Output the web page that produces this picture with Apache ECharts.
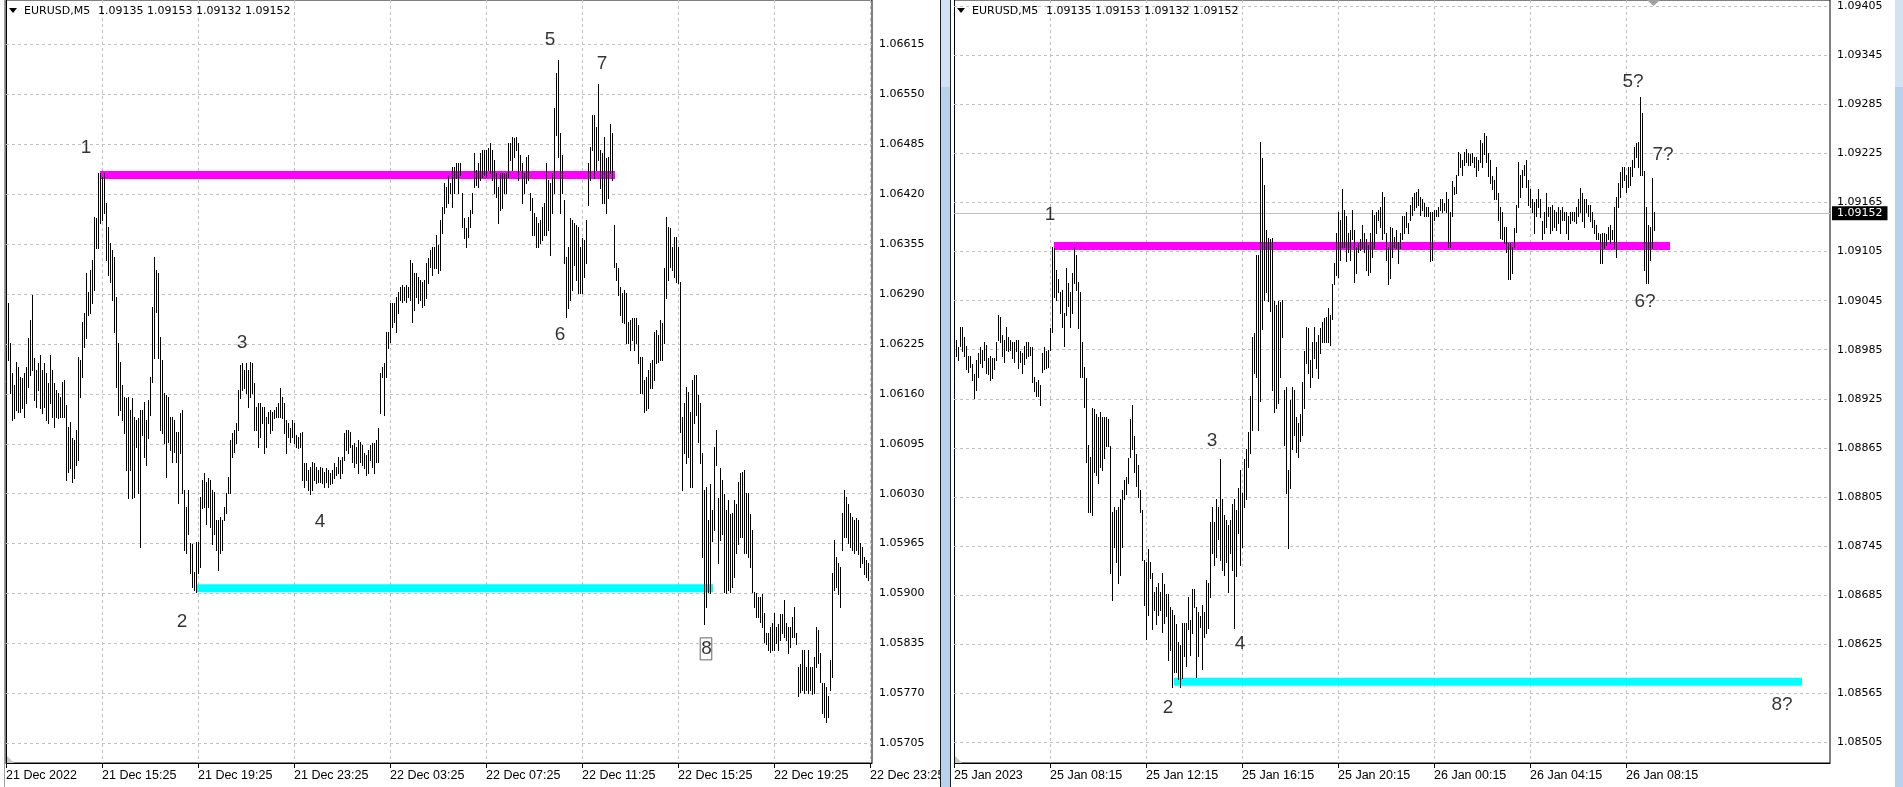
<!DOCTYPE html>
<html><head><meta charset="utf-8">
<script src="https://cdn.jsdelivr.net/npm/echarts@6/dist/echarts.min.js"></script>
<style>html,body{margin:0;padding:0;background:#fff;overflow:hidden}#c{width:1903px;height:787px}</style>
</head><body><div id="c"></div>
<script>
// ---------- DATA ----------
const symbolName = 'EURUSD,M5';
const headerOHLC = ['1.09135', '1.09153', '1.09132', '1.09152'];

const leftTimeLabels = ['21 Dec 2022','21 Dec 15:25','21 Dec 19:25','21 Dec 23:25','22 Dec 03:25','22 Dec 07:25','22 Dec 11:25','22 Dec 15:25','22 Dec 19:25','22 Dec 23:25'];
const rightTimeLabels = ['25 Jan 2023','25 Jan 08:15','25 Jan 12:15','25 Jan 16:15','25 Jan 20:15','26 Jan 00:15','26 Jan 04:15','26 Jan 08:15'];

const leftPriceTicks = [1.05705,1.05770,1.05835,1.05900,1.05965,1.06030,1.06095,1.06160,1.06225,1.06290,1.06355,1.06420,1.06485,1.06550,1.06615];
const rightPriceTicks = [1.08505,1.08565,1.08625,1.08685,1.08745,1.08805,1.08865,1.08925,1.08985,1.09045,1.09105,1.09165,1.09225,1.09285,1.09345,1.09405];

const leftHigh = [
1.06299,1.06278,1.06226,1.06187,1.06172,1.06201,1.06195,1.06182,1.06181,1.06187,
1.06195,1.06233,1.06256,1.06289,1.06207,1.06191,1.06200,1.06211,1.06191,1.06200,
1.06187,1.06174,1.06211,1.06191,1.06174,1.06165,1.06161,1.06156,1.06175,1.06178,
1.06146,1.06117,1.06123,1.06103,1.06100,1.06113,1.06208,1.06204,1.06253,1.06265,
1.06317,1.06292,1.06321,1.06334,1.06390,1.06389,1.06447,1.06448,1.06442,1.06447,
1.06409,1.06377,1.06356,1.06347,1.06338,1.06286,1.06226,1.06201,1.06172,1.06156,
1.06155,1.06156,1.06139,1.06155,1.06130,1.06126,1.06129,1.06139,1.06139,1.06149,
1.06126,1.06152,1.06182,1.06273,1.06338,1.06321,1.06318,1.06234,1.06204,1.06161,
1.06159,1.06156,1.06130,1.06130,1.06126,1.06110,1.06110,1.06135,1.06139,1.06035,
1.06013,1.06035,1.05966,1.05964,1.05928,1.05967,1.05967,1.06026,1.06048,1.06057,
1.06045,1.06051,1.06048,1.06035,1.06032,1.05996,1.05996,1.06000,1.05996,1.06013,
1.06031,1.06052,1.06100,1.06109,1.06113,1.06122,1.06165,1.06198,1.06200,1.06191,
1.06200,1.06191,1.06201,1.06200,1.06174,1.06143,1.06148,1.06148,1.06143,1.06143,
1.06130,1.06136,1.06139,1.06136,1.06139,1.06143,1.06148,1.06168,1.06156,1.06148,
1.06126,1.06122,1.06116,1.06126,1.06122,1.06107,1.06104,1.06109,1.06110,1.06070,
1.06070,1.06061,1.06065,1.06071,1.06070,1.06065,1.06061,1.06065,1.06064,1.06058,
1.06064,1.06061,1.06057,1.06061,1.06070,1.06065,1.06078,1.06074,1.06078,1.06109,
1.06113,1.06113,1.06110,1.06094,1.06096,1.06091,1.06100,1.06097,1.06094,1.06083,
1.06081,1.06087,1.06094,1.06096,1.06096,1.06100,1.06116,1.06187,1.06195,1.06200,
1.06240,1.06240,1.06278,1.06278,1.06278,1.06286,1.06292,1.06299,1.06302,1.06299,
1.06302,1.06299,1.06334,1.06331,1.06317,1.06317,1.06312,1.06308,1.06305,1.06308,
1.06331,1.06337,1.06347,1.06351,1.06351,1.06367,1.06354,1.06386,1.06403,1.06434,
1.06429,1.06445,1.06434,1.06455,1.06455,1.06460,1.06460,1.06460,1.06422,1.06389,
1.06376,1.06390,1.06399,1.06421,1.06474,1.06451,1.06461,1.06474,1.06477,1.06477,
1.06477,1.06480,1.06486,1.06477,1.06464,1.06448,1.06429,1.06448,1.06447,1.06448,
1.06447,1.06487,1.06486,1.06494,1.06493,1.06494,1.06486,1.06471,1.06460,1.06448,
1.06468,1.06471,1.06421,1.06415,1.06395,1.06390,1.06383,1.06386,1.06403,1.06408,
1.06460,1.06438,1.06435,1.06447,1.06532,1.06578,1.06595,1.06499,1.06471,1.06412,
1.06338,1.06351,1.06389,1.06386,1.06382,1.06380,1.06377,1.06351,1.06363,1.06360,
1.06386,1.06460,1.06481,1.06523,1.06523,1.06507,1.06564,1.06477,1.06474,1.06494,
1.06467,1.06468,1.06512,1.06500,1.06380,1.06331,1.06324,1.06299,1.06291,1.06295,
1.06291,1.06253,1.06256,1.06259,1.06259,1.06259,1.06250,1.06208,1.06208,1.06178,
1.06182,1.06191,1.06200,1.06204,1.06240,1.06243,1.06237,1.06256,1.06252,1.06324,
1.06390,1.06377,1.06376,1.06351,1.06364,1.06364,1.06351,1.06305,1.06130,1.06148,
1.06169,1.06162,1.06136,1.06178,1.06185,1.06185,1.06159,1.06148,1.06083,1.06035,
1.06039,1.05996,1.06042,1.06009,1.06091,1.06113,1.06025,1.06064,1.06048,1.06029,
1.06009,1.06022,1.06003,1.06005,1.06022,1.06016,1.06045,1.06057,1.06058,1.06061,
1.06031,1.06031,1.06003,1.05983,1.05902,1.05901,1.05895,1.05896,1.05899,1.05875,
1.05849,1.05849,1.05857,1.05862,1.05875,1.05856,1.05860,1.05873,1.05873,1.05892,
1.05862,1.05857,1.05857,1.05869,1.05883,1.05849,1.05805,1.05808,1.05827,1.05827,
1.05805,1.05827,1.05805,1.05805,1.05818,1.05857,1.05853,1.05823,1.05784,1.05784,
1.05779,1.05766,1.05814,1.05927,1.05970,1.05948,1.05940,1.05935,1.06005,1.06035,
1.06026,1.06016,1.06005,1.06000,1.05996,1.05999,1.05996,1.05966,1.05961,1.05948,
1.05944,1.05940];
const leftLow = [
1.06234,1.06204,1.06161,1.06126,1.06129,1.06139,1.06136,1.06136,1.06142,1.06130,
1.06148,1.06169,1.06185,1.06191,1.06152,1.06143,1.06165,1.06142,1.06135,1.06143,
1.06126,1.06122,1.06148,1.06130,1.06117,1.06130,1.06129,1.06130,1.06130,1.06130,
1.06048,1.06058,1.06064,1.06045,1.06051,1.06068,1.06074,1.06156,1.06182,1.06221,
1.06233,1.06263,1.06265,1.06278,1.06295,1.06350,1.06350,1.06383,1.06386,1.06395,
1.06334,1.06315,1.06305,1.06282,1.06240,1.06169,1.06133,1.06139,1.06126,1.06109,
1.06061,1.06025,1.06061,1.06025,1.06026,1.06091,1.06031,1.05960,1.06107,1.06078,
1.06068,1.06103,1.06133,1.06175,1.06207,1.06266,1.06207,1.06113,1.06109,1.06096,
1.06052,1.06097,1.06087,1.06071,1.06084,1.06071,1.06018,1.06083,1.06031,1.05957,
1.05953,1.05977,1.05927,1.05908,1.05905,1.05902,1.05927,1.05934,1.06012,1.06013,
1.05990,1.06013,1.05987,1.05964,1.05977,1.05957,1.05931,1.05953,1.05957,1.05996,
1.06005,1.06031,1.06031,1.06078,1.06084,1.06096,1.06113,1.06155,1.06165,1.06168,
1.06161,1.06143,1.06156,1.06161,1.06113,1.06113,1.06091,1.06104,1.06122,1.06083,
1.06091,1.06122,1.06109,1.06113,1.06129,1.06130,1.06130,1.06130,1.06129,1.06109,
1.06083,1.06104,1.06097,1.06104,1.06096,1.06091,1.06090,1.06091,1.06048,1.06039,
1.06048,1.06035,1.06029,1.06035,1.06048,1.06044,1.06045,1.06045,1.06044,1.06039,
1.06045,1.06039,1.06042,1.06044,1.06051,1.06055,1.06057,1.06051,1.06057,1.06074,
1.06087,1.06083,1.06091,1.06071,1.06065,1.06070,1.06057,1.06071,1.06068,1.06064,
1.06055,1.06057,1.06074,1.06065,1.06057,1.06071,1.06071,1.06135,1.06182,1.06133,
1.06182,1.06220,1.06227,1.06247,1.06253,1.06240,1.06265,1.06282,1.06279,1.06282,
1.06279,1.06286,1.06282,1.06253,1.06269,1.06286,1.06278,1.06282,1.06273,1.06276,
1.06285,1.06304,1.06325,1.06315,1.06324,1.06324,1.06318,1.06321,1.06369,1.06395,
1.06403,1.06408,1.06422,1.06403,1.06421,1.06441,1.06422,1.06445,1.06377,1.06363,
1.06351,1.06364,1.06377,1.06395,1.06429,1.06432,1.06429,1.06438,1.06442,1.06445,
1.06442,1.06451,1.06448,1.06438,1.06421,1.06416,1.06383,1.06399,1.06402,1.06421,
1.06421,1.06442,1.06464,1.06451,1.06468,1.06477,1.06438,1.06451,1.06409,1.06422,
1.06434,1.06438,1.06399,1.06367,1.06367,1.06351,1.06351,1.06356,1.06360,1.06367,
1.06367,1.06373,1.06341,1.06395,1.06421,1.06497,1.06468,1.06396,1.06421,1.06331,
1.06260,1.06272,1.06282,1.06295,1.06328,1.06308,1.06291,1.06291,1.06291,1.06312,
1.06331,1.06406,1.06438,1.06477,1.06441,1.06451,1.06464,1.06428,1.06408,1.06408,
1.06395,1.06415,1.06447,1.06438,1.06325,1.06308,1.06289,1.06263,1.06253,1.06252,
1.06226,1.06226,1.06217,1.06230,1.06217,1.06226,1.06200,1.06161,1.06161,1.06136,
1.06139,1.06142,1.06168,1.06168,1.06178,1.06200,1.06201,1.06204,1.06204,1.06226,
1.06285,1.06308,1.06325,1.06321,1.06312,1.06305,1.06304,1.06110,1.06035,1.06083,
1.06070,1.06078,1.06039,1.06039,1.06122,1.06133,1.06097,1.06070,1.05948,1.05860,
1.05882,1.05902,1.05901,1.05969,1.05983,1.06068,1.05940,1.05970,1.05977,1.05902,
1.05901,1.05905,1.05902,1.05909,1.05922,1.05953,1.05964,1.05973,1.05973,1.05953,
1.05953,1.05947,1.05935,1.05902,1.05882,1.05870,1.05869,1.05863,1.05857,1.05837,
1.05834,1.05827,1.05824,1.05827,1.05827,1.05836,1.05827,1.05840,1.05849,1.05844,
1.05840,1.05823,1.05831,1.05844,1.05844,1.05834,1.05766,1.05772,1.05775,1.05771,
1.05775,1.05771,1.05775,1.05769,1.05771,1.05805,1.05810,1.05785,1.05745,1.05739,
1.05733,1.05739,1.05775,1.05792,1.05905,1.05909,1.05899,1.05883,1.05957,1.05974,
1.05973,1.05966,1.05961,1.05957,1.05953,1.05957,1.05951,1.05935,1.05940,1.05925,
1.05922,1.05918];

const rightHigh = [
1.08988,1.08997,1.08988,1.09013,1.09013,1.09000,1.08989,1.08977,1.08977,1.08967,
1.08955,1.08973,1.08981,1.08988,1.08985,1.08994,1.08991,1.08975,1.08977,1.08975,
1.08975,1.08994,1.09028,1.09025,1.09003,1.08997,1.09013,1.09000,1.08997,1.08995,
1.08994,1.08997,1.08997,1.08983,1.08981,1.08989,1.08995,1.08994,1.08988,1.08988,
1.08952,1.08945,1.08948,1.08942,1.08981,1.08988,1.08983,1.08985,1.09012,1.09111,
1.09110,1.09083,1.09071,1.09056,1.09058,1.09030,1.09085,1.09067,1.09055,1.09079,
1.09111,1.09101,1.09068,1.09055,1.08994,1.08964,1.08951,1.08869,1.08854,1.08914,
1.08912,1.08906,1.08903,1.08909,1.08903,1.08903,1.08903,1.08900,1.08867,1.08786,
1.08793,1.08789,1.08793,1.08802,1.08814,1.08826,1.08829,1.08853,1.08900,1.08918,
1.08879,1.08857,1.08844,1.08814,1.08789,1.08728,1.08725,1.08741,1.08725,1.08712,
1.08689,1.08695,1.08700,1.08689,1.08712,1.08698,1.08686,1.08686,1.08670,1.08667,
1.08661,1.08649,1.08627,1.08624,1.08651,1.08651,1.08651,1.08683,1.08655,1.08692,
1.08692,1.08670,1.08664,1.08659,1.08673,1.08664,1.08704,1.08700,1.08774,1.08793,
1.08774,1.08802,1.08793,1.08851,1.08802,1.08783,1.08777,1.08771,1.08777,1.08796,
1.08802,1.08789,1.08816,1.08838,1.08810,1.08851,1.08863,1.08885,1.08928,1.09001,
1.09006,1.09101,1.09101,1.09239,1.09220,1.09187,1.09132,1.09122,1.09120,1.09122,
1.09044,1.09040,1.09044,1.09043,1.09046,1.08936,1.08939,1.08838,1.08924,1.08939,
1.08936,1.08903,1.08896,1.08906,1.08945,1.08983,1.09013,1.09012,1.08973,1.08995,
1.09013,1.08994,1.09003,1.09012,1.09019,1.09024,1.09025,1.09036,1.09028,1.09065,
1.09091,1.09128,1.09153,1.09144,1.09181,1.09156,1.09148,1.09128,1.09132,1.09156,
1.09132,1.09111,1.09116,1.09120,1.09138,1.09128,1.09120,1.09113,1.09128,1.09156,
1.09150,1.09154,1.09156,1.09160,1.09178,1.09172,1.09128,1.09111,1.09135,1.09134,
1.09123,1.09132,1.09117,1.09128,1.09148,1.09148,1.09153,1.09140,1.09162,1.09172,
1.09177,1.09178,1.09181,1.09172,1.09169,1.09165,1.09160,1.09159,1.09154,1.09154,
1.09156,1.09156,1.09159,1.09169,1.09169,1.09165,1.09178,1.09169,1.09153,1.09191,
1.09184,1.09199,1.09227,1.09224,1.09217,1.09227,1.09230,1.09226,1.09224,1.09226,
1.09221,1.09221,1.09217,1.09242,1.09238,1.09250,1.09246,1.09226,1.09217,1.09197,
1.09193,1.09208,1.09177,1.09160,1.09153,1.09135,1.09135,1.09116,1.09116,1.09111,
1.09134,1.09162,1.09214,1.09199,1.09205,1.09211,1.09217,1.09193,1.09181,1.09169,
1.09166,1.09169,1.09181,1.09169,1.09142,1.09153,1.09177,1.09160,1.09159,1.09162,
1.09156,1.09153,1.09159,1.09156,1.09159,1.09153,1.09154,1.09148,1.09153,1.09153,
1.09154,1.09160,1.09169,1.09183,1.09177,1.09169,1.09169,1.09162,1.09162,1.09153,
1.09144,1.09138,1.09128,1.09126,1.09128,1.09128,1.09126,1.09135,1.09138,1.09132,
1.09160,1.09172,1.09189,1.09202,1.09208,1.09209,1.09199,1.09208,1.09209,1.09217,
1.09233,1.09238,1.09239,1.09294,1.09275,1.09203,1.09159,1.09138,1.09135,1.09195,
1.09153];
const rightLow = [
1.08970,1.08977,1.08973,1.08989,1.08983,1.08977,1.08961,1.08958,1.08964,1.08948,
1.08926,1.08936,1.08952,1.08969,1.08964,1.08973,1.08957,1.08955,1.08948,1.08951,
1.08961,1.08973,1.08997,1.08995,1.08977,1.08970,1.08985,1.08983,1.08985,1.08975,
1.08970,1.08983,1.08963,1.08970,1.08957,1.08967,1.08975,1.08977,1.08979,1.08945,
1.08934,1.08928,1.08928,1.08918,1.08958,1.08961,1.08963,1.08964,1.08985,1.09007,
1.09050,1.09046,1.09055,1.09030,1.09013,1.08989,1.09028,1.09038,1.09013,1.09030,
1.09067,1.09058,1.09012,1.08952,1.08952,1.08915,1.08848,1.08786,1.08786,1.08783,
1.08835,1.08832,1.08822,1.08842,1.08838,1.08853,1.08867,1.08867,1.08712,1.08679,
1.08744,1.08725,1.08700,1.08710,1.08744,1.08802,1.08808,1.08822,1.08854,1.08863,
1.08835,1.08818,1.08805,1.08786,1.08728,1.08673,1.08631,1.08661,1.08706,1.08643,
1.08667,1.08649,1.08661,1.08667,1.08640,1.08651,1.08659,1.08606,1.08618,1.08573,
1.08591,1.08591,1.08582,1.08573,1.08584,1.08610,1.08598,1.08643,1.08612,1.08639,
1.08670,1.08585,1.08610,1.08646,1.08594,1.08634,1.08639,1.08645,1.08683,1.08737,
1.08722,1.08732,1.08753,1.08728,1.08716,1.08710,1.08725,1.08689,1.08737,1.08716,
1.08645,1.08708,1.08761,1.08722,1.08744,1.08793,1.08802,1.08842,1.08859,1.08887,
1.08957,1.08952,1.08887,1.08922,1.09010,1.09046,1.09055,1.09044,1.09032,1.08936,
1.08909,1.08914,1.08920,1.08952,1.09001,1.08869,1.08810,1.08743,1.08816,1.08863,
1.08881,1.08860,1.08854,1.08873,1.08881,1.08914,1.08969,1.08957,1.08940,1.08952,
1.08975,1.08963,1.08951,1.08981,1.08994,1.08994,1.08994,1.08994,1.08991,1.09022,
1.09065,1.09077,1.09074,1.09095,1.09111,1.09111,1.09093,1.09104,1.09095,1.09120,
1.09068,1.09079,1.09104,1.09107,1.09110,1.09104,1.09083,1.09077,1.09080,1.09099,
1.09110,1.09128,1.09144,1.09135,1.09120,1.09128,1.09095,1.09065,1.09073,1.09099,
1.09111,1.09110,1.09091,1.09110,1.09120,1.09128,1.09135,1.09128,1.09144,1.09150,
1.09156,1.09160,1.09162,1.09150,1.09156,1.09148,1.09148,1.09148,1.09093,1.09095,
1.09144,1.09148,1.09149,1.09156,1.09153,1.09156,1.09153,1.09111,1.09111,1.09148,
1.09175,1.09177,1.09199,1.09209,1.09199,1.09211,1.09214,1.09211,1.09211,1.09214,
1.09208,1.09197,1.09205,1.09214,1.09209,1.09224,1.09214,1.09197,1.09189,1.09181,
1.09169,1.09169,1.09144,1.09122,1.09120,1.09116,1.09104,1.09071,1.09071,1.09079,
1.09111,1.09129,1.09160,1.09172,1.09184,1.09199,1.09184,1.09162,1.09160,1.09153,
1.09128,1.09148,1.09160,1.09147,1.09120,1.09128,1.09135,1.09148,1.09128,1.09132,
1.09135,1.09132,1.09140,1.09128,1.09144,1.09144,1.09128,1.09120,1.09140,1.09144,
1.09142,1.09140,1.09148,1.09153,1.09142,1.09135,1.09153,1.09148,1.09142,1.09135,
1.09128,1.09120,1.09120,1.09091,1.09091,1.09110,1.09113,1.09120,1.09116,1.09120,
1.09110,1.09099,1.09160,1.09172,1.09184,1.09193,1.09178,1.09184,1.09187,1.09197,
1.09209,1.09221,1.09208,1.09199,1.09199,1.09083,1.09067,1.09067,1.09095,1.09110,
1.09132];

// horizontal levels: [from bar, to bar, price]
const leftResistance = [47, 304.5, 1.06445];
const leftSupport = [95.5, 353.5, 1.05907];
const rightResistance = [50, 358, 1.09112];
const rightSupport = [110, 424, 1.08579];
const rightBid = 1.09152;

// wave labels: [text, bar, price]
const leftMarks = [['1',40,1.06481],['2',88,1.05863],['3',118,1.06227],['4',157,1.05993],['5',272,1.06621],['6',277,1.06237],['7',298,1.06590],['8',350,1.05828]];
const rightMarks = [['1',48,1.09150],['2',107,1.08547],['3',129,1.08874],['4',143,1.08626],['5?',339.5,1.09313],['6?',345.5,1.09044],['7?',354.5,1.09224],['8?',414,1.08551]];

// ---------- CHART ----------
const LABEL_STEP = 48;
const GRID_LINE = {color:'#c0c0c0', type:[3,3], width:1};
const chart = echarts.init(document.getElementById('c'), null, {renderer:'canvas', width:1903, height:787});

function barSeries(high, low, k) {
  return {
    type:'custom', xAxisIndex:k, yAxisIndex:k, z:5, silent:true,
    data: high.map((h, i) => [i, low[i], h]),
    encode:{x:0, y:[1,2]},
    renderItem(params, api) {
      const x = api.value(0);
      const a = api.coord([x, api.value(2)]);
      const b = api.coord([x, api.value(1)]);
      const px = Math.round(a[0]) + 0.5;
      return {type:'line', shape:{x1:px, y1:Math.round(a[1]), x2:px, y2:Math.round(b[1]) + 1},
              style:{stroke:'#000', lineWidth:1}};
    }
  };
}
function labelIdx(labels) { return labels.map((_, j) => j * LABEL_STEP); }
function xAxisCfg(k, max, labels) {
  return {
    type:'value', gridIndex:k, min:0, max:max, interval:24,
    axisLine:{show:true, onZero:false, lineStyle:{color:'#000', width:1}},
    axisTick:{show:true, length:5, lineStyle:{color:'#000'}, customValues:labelIdx(labels)},
    axisLabel:{show:true, customValues:labelIdx(labels), align:'left', margin:6, color:'#000',
      fontFamily:'Liberation Sans', fontSize:12.5,
      formatter: v => { const j = v / LABEL_STEP; return (Number.isInteger(j) && j < labels.length) ? labels[j] : ''; }},
    splitLine:{show:true, lineStyle:GRID_LINE}
  };
}
function yAxisCfg(k, min, max) {
  return {type:'value', gridIndex:k, min:min, max:max, position:'right',
    axisLine:{show:true, lineStyle:{color:'#000'}}, axisTick:{show:false}, axisLabel:{show:false}, splitLine:{show:false}};
}
function gridLineSeries(ticks, k) {
  return {
    type:'line', xAxisIndex:k, yAxisIndex:k, data:[[0, ticks[0]]], symbol:'none', lineStyle:{opacity:0}, z:1, silent:true,
    markLine:{silent:true, z:1, symbol:['none','none'], precision:6, animation:false,
      lineStyle:GRID_LINE, emphasis:{disabled:true},
      label:{show:true, position:'end', distance:7, color:'#000', fontFamily:'DejaVu Sans', fontSize:11,
        formatter: p => Number(p.value).toFixed(5)},
      data: ticks.map(v => ({yAxis:v}))}
  };
}
function levelSeries(level, color, k) {
  return {type:'line', xAxisIndex:k, yAxisIndex:k, z:3, silent:true, symbol:'none',
    data:[[level[0], level[2]], [level[1], level[2]]],
    lineStyle:{color:color, width:8, cap:'butt'}};
}
function markSeries(marks, k, boxed) {
  return {
    type:'scatter', xAxisIndex:k, yAxisIndex:k, z:6, silent:true, symbolSize:1,
    itemStyle:{color:'rgba(0,0,0,0)'},
    data: marks.map(m => {
      const item = {value:[m[1], m[2]], name:m[0]};
      if (boxed.indexOf(m[0]) >= 0) item.label = {borderColor:'#404040', borderWidth:1, padding:[2,0,1,1]};
      return item;
    }),
    label:{show:true, position:'inside', formatter: p => p.name, color:'#000', fontFamily:'Liberation Sans', fontSize:19}
  };
}

const headerFont = '11px "DejaVu Sans"';
function header(x0) {
  return [
    {type:'polygon', z:100, shape:{points:[[x0,8],[x0+8,8],[x0+4,13]]}, style:{fill:'#000'}},
    {type:'text', z:100, x:x0+15, y:11, style:{text:symbolName, font:headerFont, fill:'#000', verticalAlign:'middle'}},
    {type:'text', z:100, x:x0+89, y:11, style:{text:headerOHLC.join(' '), font:headerFont, fill:'#000', verticalAlign:'middle'}}
  ];
}

const option = {
  animation:false,
  backgroundColor:'#fff',
  grid:[
    {left:6, top:0, width:866, height:763, show:true, borderColor:'#000', borderWidth:1, backgroundColor:'#fff'},
    {left:954, top:0, width:876, height:763, show:true, borderColor:'#000', borderWidth:1, backgroundColor:'#fff'}
  ],
  xAxis:[xAxisCfg(0, 433, leftTimeLabels), xAxisCfg(1, 438, rightTimeLabels)],
  yAxis:[yAxisCfg(0, 1.056794, 1.066728), yAxisCfg(1, 1.084796, 1.094127)],
  series:[
    gridLineSeries(leftPriceTicks, 0),
    gridLineSeries(rightPriceTicks, 1),
    {type:'line', xAxisIndex:1, yAxisIndex:1, data:[[0, rightBid]], symbol:'none', lineStyle:{opacity:0}, z:2, silent:true,
      markLine:{silent:true, z:2, symbol:['none','none'], precision:6, animation:false,
        lineStyle:{color:'#c0c0c0', type:'solid', width:1}, emphasis:{disabled:true},
        label:{show:true, position:'end', distance:2, color:'#fff', backgroundColor:'#000', padding:[2,5,1,5],
          fontFamily:'DejaVu Sans', fontSize:11, formatter: p => Number(p.value).toFixed(5)},
        data:[{yAxis:rightBid}]}},
    levelSeries(leftResistance, '#ff00ff', 0),
    levelSeries(leftSupport, '#00ffff', 0),
    levelSeries(rightResistance, '#ff00ff', 1),
    levelSeries(rightSupport, '#00ffff', 1),
    barSeries(leftHigh, leftLow, 0),
    barSeries(rightHigh, rightLow, 1),
    markSeries(leftMarks, 0, ['8']),
    markSeries(rightMarks, 1, [])
  ],
  graphic:[
    ...header(9),
    ...header(957),
    {type:'rect', z:90, shape:{x:4, y:0, width:1, height:787}, style:{fill:'#a0a0a0'}},
    {type:'rect', z:90, shape:{x:940, y:0, width:1, height:787}, style:{fill:'#202020'}},
    {type:'rect', z:90, shape:{x:941, y:0, width:9, height:787}, style:{fill:'#b9d1ea'}},
    {type:'rect', z:91, shape:{x:941, y:0, width:9, height:87}, style:{fill:'#d3e2f3'}},
    {type:'rect', z:90, shape:{x:950, y:0, width:1, height:787}, style:{fill:'#202020'}},
    {type:'rect', z:90, shape:{x:951, y:0, width:3, height:787}, style:{fill:'#fff'}},
    {type:'rect', z:90, shape:{x:1895, y:0, width:8, height:787}, style:{fill:'#b9d1ea'}},
    {type:'rect', z:91, shape:{x:1895, y:0, width:8, height:87}, style:{fill:'#d3e2f3'}},
    {type:'polygon', z:95, shape:{points:[[1647,0],[1660,0],[1653.5,6]]}, style:{fill:'#a0a0a0'}},
    {type:'polygon', z:95, shape:{points:[[7,756],[7,763],[14,763]]}, style:{fill:'#c8c8c8'}},
    {type:'polygon', z:95, shape:{points:[[955,756],[955,763],[962,763]]}, style:{fill:'#c8c8c8'}}
  ]
};
chart.setOption(option);
</script>
</body></html>
